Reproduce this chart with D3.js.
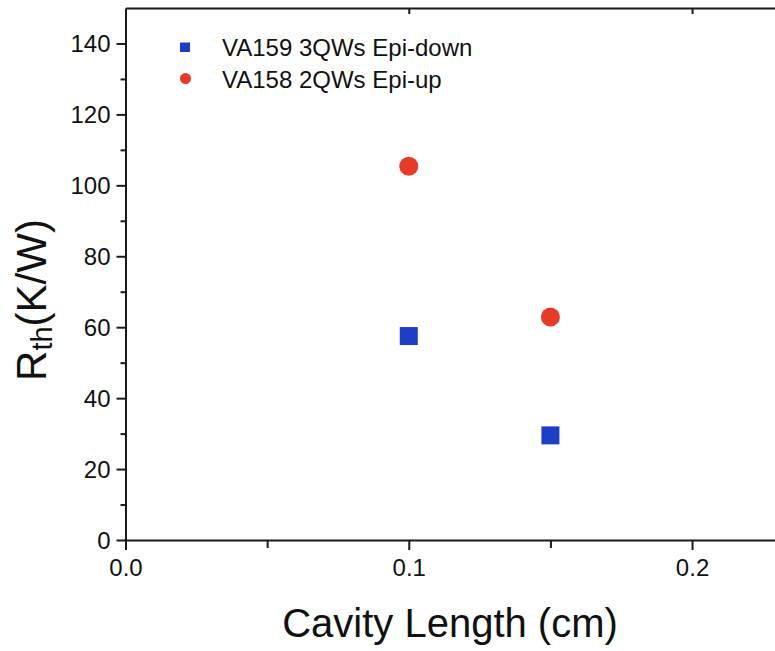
<!DOCTYPE html>
<html><head><meta charset="utf-8">
<script src="https://cdn.jsdelivr.net/npm/d3@7"></script>
<style>
body{margin:0;background:#fff}
svg{display:block}
text{font-family:"Liberation Sans",Arial,Helvetica,sans-serif;fill:#111}
</style>
</head><body><svg id="c" width="775" height="651"></svg>
<script>
// ---- data ----
const cavityLength = [0.10, 0.15];
const seriesNames = ["VA159 3QWs Epi-down", "VA158 2QWs Epi-up"];
const epiDownRth = [57.5, 29.5];
const epiUpRth = [105.4, 62.9];
const xMajorTicks = [0, 0.1, 0.2];
const xMinorTicks = [0.05, 0.15];
const yMajorTicks = [0, 20, 40, 60, 80, 100, 120, 140];
const yMinorTicks = [10, 30, 50, 70, 90, 110, 130];
const xTitle = "Cavity Length (cm)";

const colors = ["#1c3fc6", "#e63b2b"];
const svg = d3.select("#c");
const W = 775, H = 651;
const x = d3.scaleLinear().domain([0, 0.25]).range([125.5, 833.7]);
const y = d3.scaleLinear().domain([0, 150]).range([540, 8]);
const axisColor = "#1a1a1a";

// bottom axis
const gx = svg.append("g").attr("transform", `translate(0,${y(0)})`);
gx.call(d3.axisBottom(x).tickValues(xMajorTicks).tickFormat(d3.format(".1f")).tickSizeInner(10).tickSizeOuter(0).tickPadding(9));
svg.append("g").attr("transform", `translate(0,${y(0)})`)
  .call(d3.axisBottom(x).tickValues(xMinorTicks).tickFormat("").tickSizeInner(8).tickSizeOuter(0))
  .select(".domain").remove();
// top axis (inward ticks)
svg.append("g").attr("transform", `translate(0,${y(150)})`)
  .call(d3.axisBottom(x).tickValues(xMajorTicks.slice(1)).tickFormat("").tickSizeInner(6).tickSizeOuter(0));
// left axis
const gy = svg.append("g").attr("transform", `translate(${x(0)},0)`);
gy.call(d3.axisLeft(y).tickValues(yMajorTicks).tickFormat(d3.format("d")).tickSizeInner(9).tickSizeOuter(0).tickPadding(6));
svg.append("g").attr("transform", `translate(${x(0)},0)`)
  .call(d3.axisLeft(y).tickValues(yMinorTicks).tickFormat("").tickSizeInner(5).tickSizeOuter(0))
  .select(".domain").remove();

svg.selectAll(".domain").attr("stroke", axisColor).attr("stroke-width", 2);
svg.selectAll(".tick line").attr("stroke", axisColor).attr("stroke-width", 2);
svg.selectAll(".tick text").attr("fill", "#111").style("font-family", '"Liberation Sans",Arial,sans-serif');
gx.selectAll(".tick text").style("font-size", "24px");
gy.selectAll(".tick text").style("font-size", "24px").attr("dy", "0.35em");
// extend bottom tick at 0 through left axis: add small stub
svg.append("line").attr("x1", x(0)).attr("x2", x(0)).attr("y1", y(0)).attr("y2", y(0) - 1)
  .attr("stroke", axisColor).attr("stroke-width", 2);

// data points
svg.append("g").selectAll("rect").data(cavityLength.map((c, i) => [c, epiDownRth[i]]))
  .join("rect")
  .attr("x", d => x(d[0]) - 9).attr("y", d => y(d[1]) - 9)
  .attr("width", 18).attr("height", 18).attr("fill", colors[0]);
svg.append("g").selectAll("circle").data(cavityLength.map((c, i) => [c, epiUpRth[i]]))
  .join("circle")
  .attr("cx", d => x(d[0])).attr("cy", d => y(d[1])).attr("r", 9.5).attr("fill", colors[1]);

// legend
const lg = svg.append("g");
lg.append("rect").attr("x", 180).attr("y", 42.5).attr("width", 10).attr("height", 9.5).attr("fill", colors[0]);
lg.append("circle").attr("cx", 185.5).attr("cy", 78.5).attr("r", 5.5).attr("fill", colors[1]);
lg.selectAll("text").data(seriesNames).join("text")
  .attr("x", 222).attr("y", (d, i) => 56 + i * 32)
  .style("font-size", "24px").text(d => d);

// x title
svg.append("text").attr("x", 450).attr("y", 637).attr("text-anchor", "middle")
  .style("font-size", "40px").text(xTitle);

// y title
const yt = svg.append("text").attr("transform", "translate(46,300) rotate(-90)")
  .attr("text-anchor", "middle").style("font-size", "42px");
yt.append("tspan").text("R");
yt.append("tspan").attr("dy", 6).style("font-size", "29px").text("th");
yt.append("tspan").attr("dy", -6).text("(K/W)");
</script>
</body></html>
